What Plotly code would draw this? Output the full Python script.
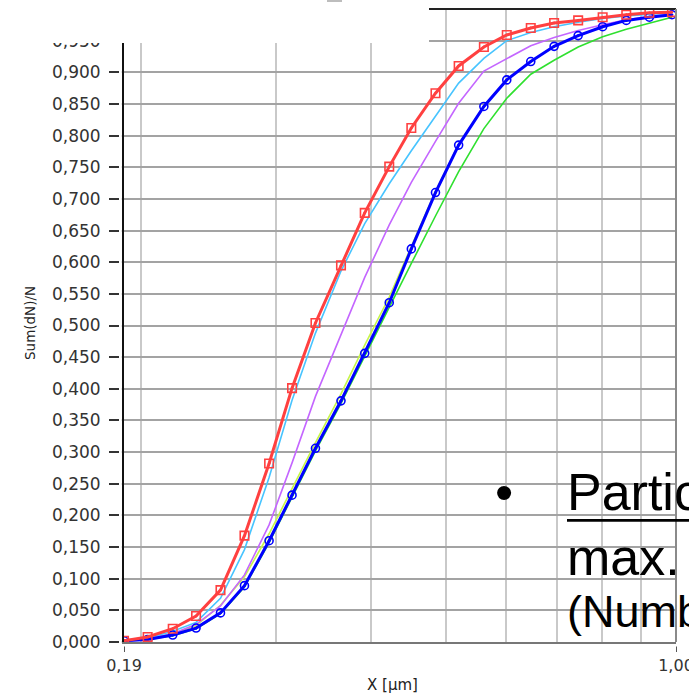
import plotly.graph_objects as go

# ---- data ----
X_UM = [0.190, 0.204, 0.220, 0.236, 0.254, 0.273, 0.294, 0.315, 0.338, 0.365,
        0.392, 0.422, 0.451, 0.485, 0.520, 0.561, 0.601, 0.646, 0.693, 0.745,
        0.802, 0.861, 0.923, 0.988]

RED = [0.002, 0.008, 0.021, 0.041, 0.082, 0.168, 0.282, 0.401, 0.504, 0.595,
       0.678, 0.751, 0.812, 0.867, 0.910, 0.940, 0.959, 0.970, 0.978, 0.982,
       0.987, 0.991, 0.994, 0.995]
CYAN = [0.002, 0.006, 0.017, 0.031, 0.069, 0.146, 0.260, 0.382, 0.488, 0.586,
        0.661, 0.724, 0.776, 0.830, 0.883, 0.922, 0.950, 0.963, 0.972, 0.979,
        0.985, 0.989, 0.992, 0.994]
VIOLET = [0.002, 0.005, 0.013, 0.028, 0.057, 0.106, 0.185, 0.283, 0.388, 0.487,
          0.576, 0.659, 0.726, 0.791, 0.851, 0.902, 0.921, 0.942, 0.955, 0.966,
          0.975, 0.983, 0.988, 0.992]
LIME = [0.002, 0.005, 0.013, 0.026, 0.058, 0.103, 0.171, 0.243, 0.315, 0.392,
        0.469, 0.545, 0.625, 0.712, 0.786, 0.846, 0.888, 0.917, 0.941, 0.958,
        0.972, 0.982, 0.987, 0.991]
BLUE = [0.002, 0.004, 0.011, 0.022, 0.046, 0.089, 0.160, 0.232, 0.306, 0.381,
        0.456, 0.536, 0.621, 0.710, 0.785, 0.846, 0.888, 0.917, 0.941, 0.958,
        0.972, 0.982, 0.987, 0.991]
GREEN = [0.002, 0.004, 0.010, 0.021, 0.045, 0.087, 0.157, 0.229, 0.302, 0.377,
         0.452, 0.529, 0.598, 0.673, 0.743, 0.811, 0.859, 0.897, 0.919, 0.940,
         0.956, 0.968, 0.978, 0.987]

X_TICKS = [0.19, 1.00]
X_GRID = [0.2, 0.3, 0.4, 0.5, 0.6, 0.7, 0.8, 0.9]

Y_TITLE = "Sum(dN)/N"
X_TITLE = "X [µm]"
SLIDE_LINES = ["Particle size", "max.", "(Number"]

# ---- geometry helpers (page pixels -> paper) ----
W, H = 689, 693
L, R, T, B = 124, 676, 9, 642
PW, PH = R - L, B - T


def px_x(p):
    return (p - L) / PW


def px_y(p):
    return (B - p) / PH


fig = go.Figure()

thin = dict(mode="lines", hoverinfo="skip", showlegend=False)
fig.add_trace(go.Scatter(x=X_UM, y=LIME, line=dict(color="#c6f54a", width=1.6), **thin))
fig.add_trace(go.Scatter(x=X_UM, y=GREEN, line=dict(color="#2fe02f", width=1.6), **thin))
fig.add_trace(go.Scatter(x=X_UM, y=VIOLET, line=dict(color="#c466ff", width=1.6), **thin))
fig.add_trace(go.Scatter(x=X_UM, y=CYAN, line=dict(color="#47c4ff", width=1.6), **thin))
fig.add_trace(go.Scatter(
    x=X_UM, y=BLUE, mode="lines+markers", showlegend=False,
    line=dict(color="#0000ff", width=3),
    marker=dict(symbol="circle-open-dot", size=8, color="#0000ff",
                line=dict(width=1.6, color="#0000ff"))))
fig.add_trace(go.Scatter(
    x=X_UM, y=RED, mode="lines+markers", showlegend=False,
    line=dict(color="#ff4040", width=3),
    marker=dict(symbol="square-open-dot", size=8.5, color="#ff4040",
                line=dict(width=1.6, color="#ff4040"))))

tickfont = dict(family="DejaVu Sans", size=17, color="#333333")

fig.update_layout(
    width=W, height=H,
    margin=dict(l=L, r=W - R, t=T, b=H - B, pad=0, autoexpand=False),
    paper_bgcolor="white", plot_bgcolor="white",
    separators=",.",
    showlegend=False,
    xaxis=dict(
        type="log", range=[-0.721246, 0.0], automargin=False,
        tickmode="array", tickvals=X_TICKS, tickformat=".2f",
        ticks="outside", ticklen=8, tickwidth=1, tickcolor="#555555",
        tickfont=dict(family="DejaVu Sans", size=16, color="#333333"),
        ticklabeloverflow="allow",
        showgrid=False, zeroline=False,
        showline=True, linecolor="#777777", linewidth=2,
        minor=dict(tickmode="array", tickvals=X_GRID, showgrid=True,
                   gridcolor="#c9c9c9", gridwidth=2, ticks=""),
    ),
    yaxis=dict(
        range=[0, 1.0], tick0=0, dtick=0.05, tickformat=".3f", automargin=False,
        ticks="outside", ticklen=13, tickwidth=1.6, tickcolor="#333333",
        tickfont=tickfont, ticklabelstandoff=5,
        showgrid=True, gridcolor="#a3a3a3", gridwidth=1.6, zeroline=False,
        showline=True, linecolor="#111111", linewidth=2,
    ),
)

shapes = [
    # frame top and right
    dict(type="line", xref="paper", yref="paper", x0=0, x1=1, y0=1, y1=1,
         line=dict(color="#222222", width=2), layer="above"),
    dict(type="line", xref="paper", yref="paper", x0=1, x1=1, y0=0, y1=1,
         line=dict(color="#8a8a8a", width=2), layer="above"),
    # gap between tick marks and axis lines
    dict(type="rect", xref="paper", yref="paper",
         x0=px_x(119), x1=px_x(121.9), y0=px_y(650), y1=px_y(0),
         fillcolor="white", line=dict(width=0), layer="above"),
    dict(type="rect", xref="paper", yref="paper",
         x0=px_x(100), x1=px_x(700), y0=px_y(644), y1=px_y(646.5),
         fillcolor="white", line=dict(width=0), layer="above"),
    # slide box covering top-left of the chart
    dict(type="rect", xref="paper", yref="paper",
         x0=px_x(-5), x1=px_x(429), y0=px_y(43), y1=px_y(-5),
         fillcolor="white", line=dict(width=0), layer="above"),
    dict(type="rect", xref="paper", yref="paper",
         x0=px_x(327), x1=px_x(342), y0=px_y(2), y1=px_y(-2),
         fillcolor="#bdbdbd", line=dict(width=0), layer="above"),
    # underline of the slide heading
    dict(type="line", xref="paper", yref="paper",
         x0=px_x(567), x1=px_x(700), y0=px_y(520.3), y1=px_y(520.3),
         line=dict(color="black", width=2.7), layer="above"),
]
fig.update_layout(shapes=shapes)

ann = [
    dict(text=Y_TITLE, textangle=-90, x=px_x(30), y=px_y(323),
         font=dict(family="DejaVu Sans", size=13.5, color="#222222")),
    dict(text=X_TITLE, x=px_x(392), y=px_y(685),
         font=dict(family="DejaVu Sans", size=15, color="#222222")),
    dict(text="•", x=px_x(504), y=px_y(492), xanchor="center",
         font=dict(family="Liberation Sans", size=52, color="black")),
    dict(text=SLIDE_LINES[0], x=px_x(565), y=px_y(492), xanchor="left",
         font=dict(family="Liberation Sans", size=52, color="black")),
    dict(text=SLIDE_LINES[1], x=px_x(565), y=px_y(557), xanchor="left",
         font=dict(family="Liberation Sans", size=52, color="black")),
    dict(text=SLIDE_LINES[2], x=px_x(565), y=px_y(611), xanchor="left",
         font=dict(family="Liberation Sans", size=45, color="black")),
]
for a in ann:
    a.setdefault("xanchor", "center")
    a.update(xref="paper", yref="paper", yanchor="middle", showarrow=False)
fig.update_layout(annotations=ann)

fig.write_html("out.html")
